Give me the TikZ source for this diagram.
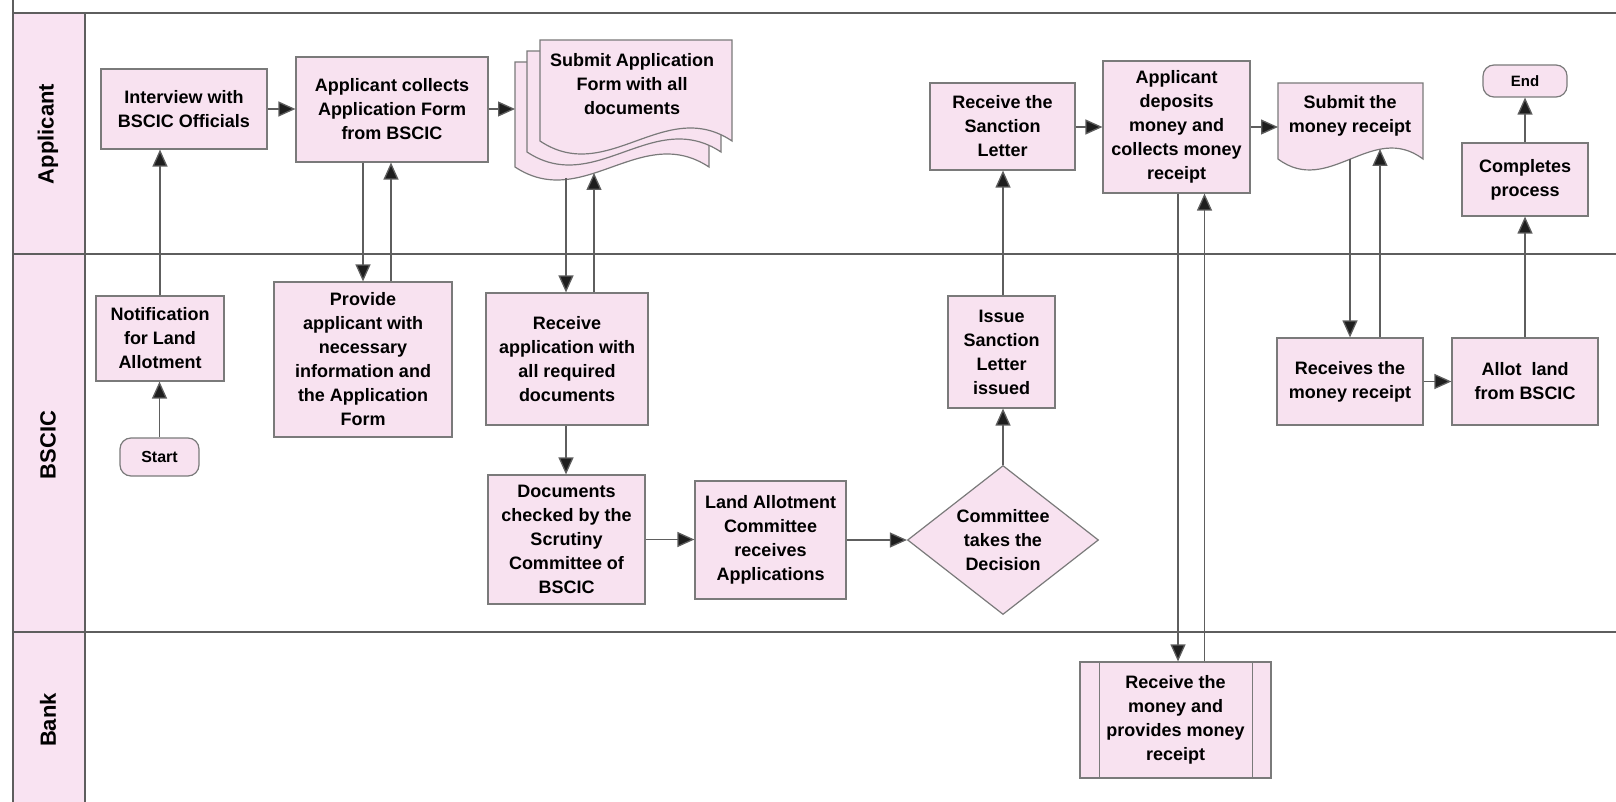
\documentclass[tikz,border=0pt]{standalone}
\usepackage{fontspec}
\setmainfont{Liberation Sans}
\usetikzlibrary{shapes.geometric,arrows.meta}
\definecolor{boxpink}{HTML}{F8E2F0}
\definecolor{lanepink}{HTML}{F9E3F2}
\definecolor{edgegray}{HTML}{7A7A7A}
\definecolor{linegray}{HTML}{5E5E5E}
\definecolor{tipdark}{HTML}{1E1E1E}
\newcommand{\boxfont}{\fontsize{18}{24}\selectfont\bfseries}
\begin{document}
\begin{tikzpicture}[x=1pt,y=-1pt,
  box/.style={draw=edgegray, line width=1.2pt, fill=boxpink, inner sep=2pt, align=center, font=\boxfont, text=black},
  docshape/.style={draw=edgegray, line width=1.2pt, fill=boxpink},
  doctext/.style={inner sep=0pt, align=center, font=\boxfont, text=black},
  term/.style={box, rounded corners=11pt},
  flow/.style={draw=linegray, line width=1.3pt, -{Triangle[length=17pt,width=15pt,fill=tipdark]}},
  laneline/.style={draw=linegray, line width=1.3pt},
  lanelabel/.style={rotate=90, font=\fontsize{22}{26}\selectfont\bfseries, text=black, inner sep=0pt}]
\path[use as bounding box] (0,0) rectangle (1616,802);
\fill[white] (0,0) rectangle (1616,802);
% lanes
\fill[lanepink] (13,13) rectangle (85,802);
\draw[laneline] (13,0) -- (13,802);
\draw[laneline] (85,13) -- (85,802);
\draw[laneline] (13,13) -- (1616,13);
\draw[laneline] (13,254) -- (1616,254);
\draw[laneline] (13,632) -- (1616,632);
\node[lanelabel] (laneA) at (48,134) {Applicant};
\node[lanelabel] (laneB) at (48,445) {BSCIC};
\node[lanelabel] (laneC) at (48,720) {Bank};

% stacked document: Submit Application Form
\draw[docshape] (515,62) -- (709,62) -- (709,167) .. controls (641.1,122) and (582.9,212) .. (515,167) -- cycle;
\draw[docshape] (527,51) -- (721,51) -- (721,152) .. controls (653.1,107) and (594.9,197) .. (527,152) -- cycle;
\draw[docshape] (540,40) -- (732,40) -- (732,141) .. controls (664.8,96) and (607.2,186) .. (540,141) -- cycle;
\node[doctext] (subtext) at (632,84) {Submit Application\\Form with all\\documents};
\coordinate (subleft) at (515,109);
\coordinate (subdown) at (566,178);
\coordinate (subup) at (594,173);

% document: Submit the money receipt
\draw[docshape] (1278,83) -- (1423,83) -- (1423,159) .. controls (1372.25,121) and (1328.75,197) .. (1278,159) -- cycle;
\node[doctext] (mtext) at (1350,116) {Submit the\\money receipt};
\coordinate (mleft) at (1278,127);
\coordinate (mdown) at (1350,159);
\coordinate (mup) at (1380,149);

% boxes
\node[box, minimum width=166pt, minimum height=80pt] (interview) at (184,109) {Interview with\\BSCIC Officials};
\node[box, minimum width=192pt, minimum height=105pt] (collects) at (392,109.5) {Applicant collects\\Application Form\\from BSCIC};
\node[box, minimum width=128pt, minimum height=85pt] (notif) at (160,338.5) {Notification\\for Land\\Allotment};
\node[box, minimum width=178pt, minimum height=155pt] (provide) at (363,359.5) {Provide\\applicant with\\necessary\\information and\\the Application\\Form};
\node[term, minimum width=79pt, minimum height=38pt, font=\fontsize{16}{19}\selectfont\bfseries] (start) at (159.5,457) {Start};
\node[box, minimum width=162pt, minimum height=132pt] (recapp) at (567,359) {Receive\\application with\\all required\\documents};
\node[box, minimum width=157pt, minimum height=129pt] (docs) at (566.5,539.5) {Documents\\checked by the\\Scrutiny\\Committee of\\BSCIC};
\node[box, minimum width=151pt, minimum height=118pt] (land) at (770.5,540) {Land Allotment\\Committee\\receives\\Applications};
\node[box, diamond, shape aspect=1.28, inner sep=0pt, minimum width=191pt, minimum height=149pt] (decide) at (1003,540) {Committee\\takes the\\Decision};
\node[box, minimum width=107pt, minimum height=112pt] (issue) at (1001.5,352) {Issue\\Sanction\\Letter\\issued};
\node[box, minimum width=145pt, minimum height=87pt] (recsanc) at (1002.5,126.5) {Receive the\\Sanction\\Letter};
\node[box, minimum width=147pt, minimum height=132pt] (deposits) at (1176.5,127) {Applicant\\deposits\\money and\\collects money\\receipt};
\node[box, minimum width=191pt, minimum height=116pt] (bank) at (1175.5,720) {Receive the\\money and\\provides money\\receipt};
\draw[draw=edgegray, line width=1.2pt] ([xshift=20pt]bank.north west) -- ([xshift=20pt]bank.south west);
\draw[draw=edgegray, line width=1.2pt] ([xshift=-19pt]bank.north east) -- ([xshift=-19pt]bank.south east);
\node[box, minimum width=146pt, minimum height=87pt] (receives) at (1350,381.5) {Receives the\\money receipt};
\node[box, minimum width=146pt, minimum height=87pt] (allot) at (1525,381.5) {Allot \ land\\from BSCIC};
\node[box, minimum width=126pt, minimum height=73pt] (completes) at (1525,179.5) {Completes\\process};
\node[term, minimum width=84pt, minimum height=32pt, font=\fontsize{15}{18}\selectfont\bfseries] (end) at (1525,81) {End};

% connectors
\draw[flow] (start.north) -- (start.north |- notif.south);
\draw[flow] (notif.north) -- (notif.north |- interview.south);
\draw[flow] (interview.east) -- (interview.east -| collects.west);
\draw[flow] (collects.south -| provide.north) -- (provide.north);
\draw[flow] ([xshift=28pt]provide.north) -- ([xshift=28pt]provide.north |- collects.south);
\draw[flow] (collects.east |- subleft) -- (subleft);
\draw[flow] (subdown) -- (subdown |- recapp.north);
\draw[flow] (recapp.north -| subup) -- (subup);
\draw[flow] (recapp.south -| subdown) -- (subdown |- docs.north);
\draw[flow] (docs.east) -- (docs.east -| land.west);
\draw[flow] (land.east) -- (decide.west);
\draw[flow] (decide.north) -- (decide.north |- issue.south);
\draw[flow] (issue.north -| decide.north) -- (decide.north |- recsanc.south);
\draw[flow] (recsanc.east |- deposits.west) -- (deposits.west);
\draw[flow] ([xshift=1.5pt]deposits.south) -- ([xshift=1.5pt]deposits.south |- bank.north);
\draw[flow] ([xshift=29pt]bank.north) -- ([xshift=29pt]bank.north |- deposits.south);
\draw[flow] (deposits.east |- mleft) -- (mleft);
\draw[flow] (mdown) -- (mdown |- receives.north);
\draw[flow] (receives.north -| mup) -- (mup);
\draw[flow] (receives.east) -- (receives.east -| allot.west);
\draw[flow] (allot.north) -- (allot.north |- completes.south);
\draw[flow] (completes.north) -- (completes.north |- end.south);
\end{tikzpicture}
\end{document}
